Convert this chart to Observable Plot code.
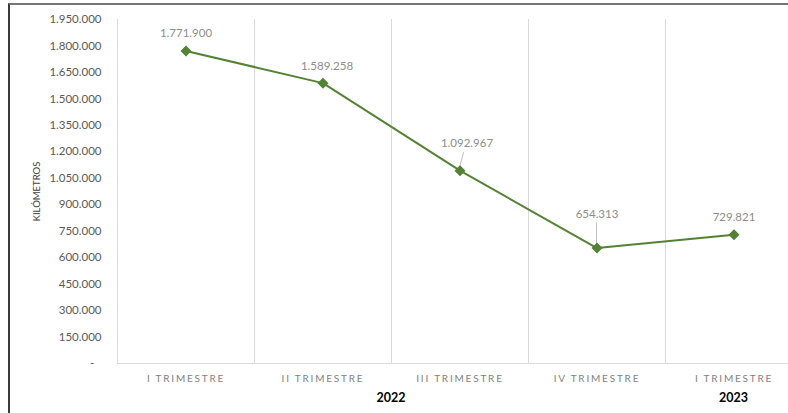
<!DOCTYPE html>
<html>
<head>
<meta charset="utf-8">
<script src="https://cdn.jsdelivr.net/npm/d3@7"></script>
<script src="https://cdn.jsdelivr.net/npm/@observablehq/plot@0.6"></script>
<style>
  html, body { margin: 0; padding: 0; background: #fff; overflow: hidden; }
  #wrap { position: relative; width: 788px; height: 413px; }
  #frame { position: absolute; left: 8px; top: 3px; width: 800px; height: 420px;
           border-left: 2px solid #3a3a3a; border-top: 2px solid #767676; pointer-events: none; }
  g[aria-label="x-axis tick label"] text { letter-spacing: 1.8px; }
  g[aria-label="y-axis label"] text { letter-spacing: 0.5px; }
</style>
</head>
<body>
<div id="wrap"><div id="frame"></div></div>
<script>
// ---- data ----
const keys = ["2022-I", "2022-II", "2022-III", "2022-IV", "2023-I"];
const quarterLabels = ["I TRIMESTRE", "II TRIMESTRE", "III TRIMESTRE", "IV TRIMESTRE", "I TRIMESTRE"];
const years = ["2022", "2022", "2022", "2022", "2023"];
const kilometros = [1771900, 1589258, 1092967, 654313, 729821];
const yTicks = [0, 150000, 300000, 450000, 600000, 750000, 900000, 1050000, 1200000, 1350000, 1500000, 1650000, 1800000, 1950000];
const yTitle = "KILÓMETROS";

// label placement (layout only)
const labelDx = [0, 4, 7, 0, 0];
const labelDy = [-18, -17, -27, -34, -17];
const leader = [false, false, true, true, false];

const data = keys.map((k, i) => ({key: k, label: quarterLabels[i], year: years[i], value: kilometros[i],
  dx: labelDx[i], dy: labelDy[i], leader: leader[i]}));

const loc = d3.formatLocale({decimal: ",", thousands: ".", grouping: [3], currency: ["", ""]});
const fmt = loc.format(",");
const yFmt = d => d === 0 ? "-\u2002\u2009" : fmt(d);

const FONT = "Lato, 'Open Sans', sans-serif";
const green = "#548235";

const bandwidth = (scales) => scales.x(keys[1]) - scales.x(keys[0]);

// vertical band separators
function separators(index, scales) {
  const g = d3.create("svg:g");
  const bw = bandwidth(scales);
  const y0 = scales.y(0), y1 = scales.y(1950000);
  keys.forEach(k => {
    const x = Math.floor(scales.x(k)) + 0.5;
    g.append("line").attr("x1", x).attr("x2", x).attr("y1", y0).attr("y2", y1)
      .attr("stroke", "#d9d9d9").attr("stroke-width", 1);
  });
  g.append("line").attr("x1", scales.x(keys[0])).attr("x2", scales.x(keys[keys.length - 1]) + bw)
    .attr("y1", Math.round(y0) + 0.5).attr("y2", Math.round(y0) + 0.5)
    .attr("stroke", "#d9d9d9").attr("stroke-width", 1);
  return g.node();
}

// year group labels
function yearLabels(index, scales) {
  const g = d3.create("svg:g");
  const bw = bandwidth(scales);
  d3.groups(data, d => d.year).forEach(([yr, rows]) => {
    const cx = d3.mean(rows, r => scales.x(r.key) + bw / 2);
    g.append("text").attr("x", cx).attr("y", scales.y(0) + 39)
      .attr("text-anchor", "middle").attr("font-family", FONT)
      .attr("font-size", 12.5).attr("font-weight", "bold").attr("fill", "#000").text(yr);
  });
  return g.node();
}

// leader lines
function leaders(index, scales) {
  const g = d3.create("svg:g");
  const bw = bandwidth(scales);
  data.filter(d => d.leader).forEach(d => {
    const px = scales.x(d.key) + bw / 2, py = scales.y(d.value);
    const tx = px + d.dx * 0.6, ty = py + d.dy + 9;
    g.append("line").attr("x1", px).attr("y1", py - 3).attr("x2", tx).attr("y2", ty)
      .attr("stroke", "#bfbfbf").attr("stroke-width", 1);
  });
  return g.node();
}

const chart = Plot.plot({
  width: 788,
  height: 413,
  marginTop: 19,
  marginBottom: 50,
  marginLeft: 115,
  marginRight: 0,
  style: {fontFamily: FONT, background: "transparent", overflow: "hidden"},
  x: {type: "band", domain: keys, range: [115.5, 802.5], padding: 0},
  y: {domain: [0, 1950000], range: [363, 19]},
  marks: [
    separators,
    Plot.axisY({ticks: yTicks, tickFormat: yFmt, tickSize: 0, tickPadding: 14, fontSize: 11.5,
      color: "#595959", label: null}),
    Plot.text([yTitle], {frameAnchor: "left", text: d => d, rotate: -90, textAnchor: "middle",
      dx: -79, fontSize: 9.5, fill: "#404040", ariaLabel: "y-axis label"}),
    Plot.axisX({tickFormat: (k) => quarterLabels[keys.indexOf(k)], tickSize: 0, tickPadding: 11,
      fontSize: 10, color: "#7f7f7f", label: null}),
    yearLabels,
    leaders,
    Plot.line(data, {x: "key", y: "value", stroke: green, strokeWidth: 2}),
    Plot.dot(data, {x: "key", y: "value", symbol: "diamond2", r: 4, fill: green, stroke: green}),
    ...data.map(d => Plot.text([d], {x: "key", y: "value", text: r => fmt(r.value),
      dx: d.dx, dy: d.dy, fontSize: 11.5, fill: "#8c8c8c"}))
  ]
});
document.getElementById("wrap").prepend(chart);
</script>
</body>
</html>
